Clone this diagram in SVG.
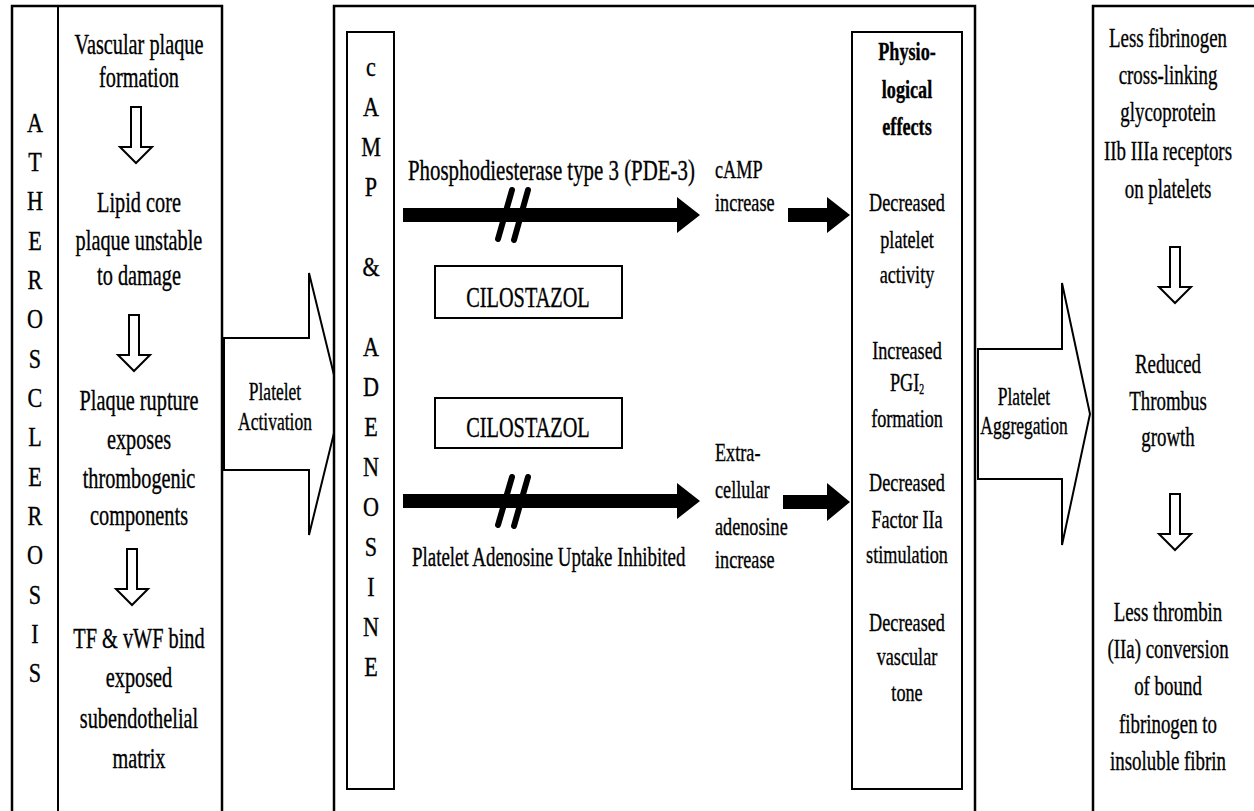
<svg xmlns="http://www.w3.org/2000/svg" width="1254" height="811" viewBox="0 0 1254 811">
<style>
.bg{fill:#fff}
.box{fill:none;stroke:#000;stroke-width:2.5}
.ibox{fill:none;stroke:#000;stroke-width:2}
.hol{fill:#fff;stroke:#000;stroke-width:2;stroke-linejoin:miter}
.solid{fill:#000;stroke:none}
.cut{stroke:#000;stroke-width:6;stroke-linecap:round;fill:none}
text{font-family:"Liberation Serif","Times New Roman",serif;fill:#000;stroke:#000;stroke-width:0.35}
.c{text-anchor:middle}
.s29{font-size:29px}
.s27{font-size:27px}
.s26{font-size:26px}
.s25{font-size:25px}
.b{font-weight:bold}
.let{font-size:27px;text-anchor:middle}
</style>
<defs>
<path id="down" d="M-5,0 H5 V40 H16 L0,56 L-16,40 H-5 Z"/>
</defs>
<rect class="bg" x="0" y="0" width="1254" height="811"/>

<g id="connectors">
  <path class="hol" d="M224,338 H309 V273 L334,375 L334,433 L309,535 V470 H224 Z"/>
  <path class="hol" d="M978,349 H1062 V283 L1090,414 L1062,545 V479 H978 Z"/>
  <path class="solid" d="M403,208 H677 V197 L700,215 L677,233 V222 H403 Z"/>
  <path class="cut" d="M498,239 L512,190 M514,240 L528,190"/>
  <path class="solid" d="M403,494 H677 V483 L700,501 L677,519 V508 H403 Z"/>
  <path class="cut" d="M498,525 L512,477 M514,526 L528,477"/>
  <path class="solid" d="M788,208 H827 V197 L850,215 L827,233 V222 H788 Z"/>
  <path class="solid" d="M783,495 H827 V483 L850,502 L827,521 V509 H783 Z"/>
  <use href="#down" class="hol" x="136" y="107"/>
  <use href="#down" class="hol" x="134" y="315"/>
  <use href="#down" class="hol" x="132" y="549"/>
  <use href="#down" class="hol" x="1175" y="247"/>
  <use href="#down" class="hol" x="1175" y="494"/>
  <g transform="translate(275,0) scale(0.7,1)">
    <text class="c s25" x="0" y="400">Platelet</text>
    <text class="c s25" x="0" y="430">Activation</text>
  </g>
  <g transform="translate(1024,0) scale(0.7,1)">
    <text class="c s25" x="0" y="405">Platelet</text>
    <text class="c s25" x="0" y="434">Aggregation</text>
  </g>
  <g transform="translate(408,0) scale(0.72,1)">
    <text class="s29" x="0" y="180">Phosphodiesterase type 3 (PDE-3)</text>
  </g>
  <g transform="translate(412,0) scale(0.7,1)">
    <text class="s27" x="0" y="566">Platelet Adenosine Uptake Inhibited</text>
  </g>
  <g transform="translate(715,0) scale(0.7,1)">
    <text class="s26" x="0" y="178">cAMP</text>
    <text class="s26" x="0" y="211">increase</text>
    <text class="s26" x="0" y="461">Extra-</text>
    <text class="s26" x="0" y="498">cellular</text>
    <text class="s26" x="0" y="535">adenosine</text>
    <text class="s26" x="0" y="568">increase</text>
  </g>
</g>

<g id="atherosclerosis">
  <rect class="box" x="12" y="6" width="210" height="830"/>
  <line x1="58" y1="6" x2="58" y2="836" stroke="#000" stroke-width="2"/>
  <g transform="translate(35,0) scale(0.82,1)">
    <text class="let" x="0" y="132">A</text>
    <text class="let" x="0" y="171">T</text>
    <text class="let" x="0" y="210">H</text>
    <text class="let" x="0" y="250">E</text>
    <text class="let" x="0" y="289">R</text>
    <text class="let" x="0" y="328">O</text>
    <text class="let" x="0" y="368">S</text>
    <text class="let" x="0" y="407">C</text>
    <text class="let" x="0" y="446">L</text>
    <text class="let" x="0" y="486">E</text>
    <text class="let" x="0" y="525">R</text>
    <text class="let" x="0" y="564">O</text>
    <text class="let" x="0" y="604">S</text>
    <text class="let" x="0" y="643">I</text>
    <text class="let" x="0" y="682">S</text>
  </g>
</g>

<g id="plaque-steps">
  <g transform="translate(139,0) scale(0.7,1)">
    <text class="c s29" x="0" y="54">Vascular plaque</text>
    <text class="c s29" x="0" y="87">formation</text>
    <text class="c s29" x="0" y="212">Lipid core</text>
    <text class="c s29" x="0" y="250">plaque unstable</text>
    <text class="c s29" x="0" y="285">to damage</text>
    <text class="c s29" x="0" y="410">Plaque rupture</text>
    <text class="c s29" x="0" y="449">exposes</text>
    <text class="c s29" x="0" y="488">thrombogenic</text>
    <text class="c s29" x="0" y="525">components</text>
    <text class="c s29" x="0" y="648">TF &amp; vWF bind</text>
    <text class="c s29" x="0" y="687">exposed</text>
    <text class="c s29" x="0" y="728">subendothelial</text>
    <text class="c s29" x="0" y="768">matrix</text>
  </g>
</g>

<g id="mechanism">
  <rect class="box" x="334" y="6" width="641" height="830"/>
</g>

<g id="camp-adenosine">
  <rect class="ibox" x="347" y="32" width="47" height="757"/>
  <g transform="translate(371,0) scale(0.82,1)">
    <text class="let" x="0" y="76">c</text>
    <text class="let" x="0" y="116">A</text>
    <text class="let" x="0" y="156">M</text>
    <text class="let" x="0" y="196">P</text>
    <text class="let" x="0" y="276">&amp;</text>
    <text class="let" x="0" y="356">A</text>
    <text class="let" x="0" y="396">D</text>
    <text class="let" x="0" y="436">E</text>
    <text class="let" x="0" y="476">N</text>
    <text class="let" x="0" y="516">O</text>
    <text class="let" x="0" y="556">S</text>
    <text class="let" x="0" y="596">I</text>
    <text class="let" x="0" y="636">N</text>
    <text class="let" x="0" y="676">E</text>
  </g>
</g>

<g id="cilostazol-1">
  <rect class="ibox" x="435" y="266" width="187" height="52"/>
  <g transform="translate(528,0) scale(0.7,1)">
    <text class="c s29" x="0" y="307">CILOSTAZOL</text>
  </g>
</g>

<g id="cilostazol-2">
  <rect class="ibox" x="435" y="398" width="187" height="50"/>
  <g transform="translate(528,0) scale(0.7,1)">
    <text class="c s29" x="0" y="437">CILOSTAZOL</text>
  </g>
</g>

<g id="physiological-effects">
  <rect class="ibox" x="852" y="32" width="110" height="757"/>
  <g transform="translate(907,0) scale(0.7,1)">
    <text class="c s26 b" x="0" y="60">Physio-</text>
    <text class="c s26 b" x="0" y="98">logical</text>
    <text class="c s26 b" x="0" y="135">effects</text>
    <text class="c s26" x="0" y="211">Decreased</text>
    <text class="c s26" x="0" y="248">platelet</text>
    <text class="c s26" x="0" y="283">activity</text>
    <text class="c s26" x="0" y="359">Increased</text>
    <text class="c s26" x="0" y="391">PGI<tspan font-size="14" dy="3">2</tspan></text>
    <text class="c s26" x="0" y="427">formation</text>
    <text class="c s26" x="0" y="491">Decreased</text>
    <text class="c s26" x="0" y="528">Factor IIa</text>
    <text class="c s26" x="0" y="563">stimulation</text>
    <text class="c s26" x="0" y="631">Decreased</text>
    <text class="c s26" x="0" y="665">vascular</text>
    <text class="c s26" x="0" y="701">tone</text>
  </g>
</g>

<g id="outcomes">
  <rect class="box" x="1093" y="6" width="200" height="830"/>
  <g transform="translate(1168,0) scale(0.7,1)">
    <text class="c s27" x="0" y="47">Less fibrinogen</text>
    <text class="c s27" x="0" y="84">cross-linking</text>
    <text class="c s27" x="0" y="121">glycoprotein</text>
    <text class="c s27" x="0" y="160">IIb IIIa receptors</text>
    <text class="c s27" x="0" y="198">on platelets</text>
    <text class="c s27" x="0" y="373">Reduced</text>
    <text class="c s27" x="0" y="410">Thrombus</text>
    <text class="c s27" x="0" y="446">growth</text>
    <text class="c s27" x="0" y="621">Less thrombin</text>
    <text class="c s27" x="0" y="658">(IIa) conversion</text>
    <text class="c s27" x="0" y="695">of bound</text>
    <text class="c s27" x="0" y="733">fibrinogen to</text>
    <text class="c s27" x="0" y="770">insoluble fibrin</text>
  </g>
</g>
</svg>
